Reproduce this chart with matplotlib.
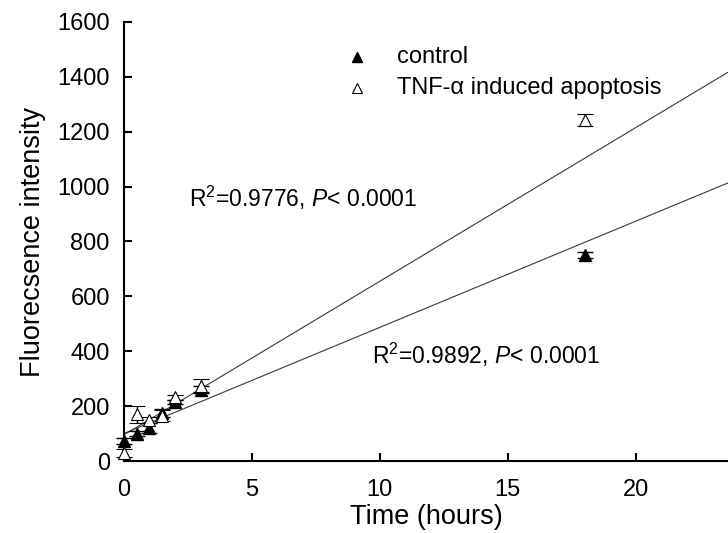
import matplotlib.pyplot as plt
import numpy as np

plt.rcParams['font.family'] = ['Liberation Sans', 'DejaVu Sans']
plt.rcParams['mathtext.fontset'] = 'custom'
plt.rcParams['mathtext.rm'] = 'Liberation Sans'
plt.rcParams['mathtext.it'] = 'Liberation Sans:italic'

# time points (hours)
t = [0, 0.5, 1, 1.5, 2, 3, 18]

# control
ctrl = [73, 100, 120, 176, 216, 260, 751]
ctrl_err = [10, 8, 18, 15, 8, 12, 10]

# TNF-alpha induced apoptosis
tnf = [30, 170, 150, 165, 232, 275, 1243]
tnf_err = [15, 30, 10, 20, 8, 25, 23]

# regression lines as drawn (intercept, slope)
fit_ctrl = (100, 38.7)
fit_tnf = (95, 56.0)

fig = plt.figure(figsize=(7.28, 5.33), dpi=100)
ax = fig.add_axes([0.170, 0.135, 0.830, 0.824])

x_fit = np.array([0, 23.6])
ax.plot(x_fit, fit_ctrl[0] + fit_ctrl[1] * x_fit, color='#3a3a3a', lw=0.8)
ax.plot(x_fit, fit_tnf[0] + fit_tnf[1] * x_fit, color='#3a3a3a', lw=0.8)

ax.errorbar(t, ctrl, yerr=ctrl_err, fmt='^', color='black', ms=8, mfc='black', mec='black',
            capsize=6, elinewidth=1, capthick=1, clip_on=False, zorder=3)
ax.errorbar(t, tnf, yerr=tnf_err, fmt='^', color='black', ms=8, mfc='white', mec='black',
            mew=0.8, capsize=6, elinewidth=1, capthick=1, clip_on=False, zorder=3)

# legend
ax.plot([9.12], [1472], '^', color='black', ms=6.5)
ax.plot([9.12], [1359], '^', mfc='white', mec='black', mew=0.8, ms=6.5)
ax.text(10.68, 1472, 'control', fontsize=17, va='center')
ax.text(10.68, 1359, 'TNF-α induced apoptosis', fontsize=17, va='center')

ax.text(2.55, 958, r'R$^2$=0.9776, $P$< 0.0001', fontsize=16.5, va='center')
ax.text(9.7, 387, r'R$^2$=0.9892, $P$< 0.0001', fontsize=16.5, va='center')

ax.set_xlim(0, 23.6)
ax.set_ylim(0, 1600)
ax.set_xticks([0, 5, 10, 15, 20])
ax.set_yticks(np.arange(0, 1601, 200))
ax.spines['top'].set_visible(False)
ax.spines['right'].set_visible(False)
ax.spines['left'].set_linewidth(1.5)
ax.spines['bottom'].set_linewidth(1.5)
ax.tick_params(direction='in', length=6, width=1.5, labelsize=17)
ax.tick_params(axis='x', pad=13)
ax.tick_params(axis='y', pad=10)

ax.set_xlabel('Time (hours)', fontsize=19.5, labelpad=2)
ax.set_ylabel('Fluorecsence intensity', fontsize=19.5, labelpad=8)

plt.savefig('out.png')
